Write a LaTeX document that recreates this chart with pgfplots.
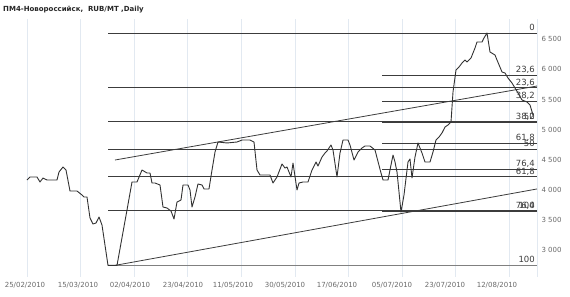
\documentclass[border=0pt]{standalone}
\usepackage{pgfplots}
\pgfplotsset{compat=1.18}
\usepackage{fontspec}
\setmainfont{DejaVu Sans}
\definecolor{gridc}{RGB}{226,233,241}
\definecolor{linec}{RGB}{50,50,50}
\definecolor{fibc}{RGB}{60,60,60}
\definecolor{tickc}{RGB}{105,105,105}
\tikzset{
  fib/.style={draw=fibc, line width=0.8bp},
  lab/.style={anchor=base east, inner sep=0pt, yshift=2.5bp, text=fibc, font=\fontsize{8.5bp}{9bp}\selectfont},
}
\begin{document}
\begin{tikzpicture}
\useasboundingbox (0,0) rectangle (570bp,297bp);
\node[anchor=base west,inner sep=0pt,text=black!85] at (3bp,285.5bp) {\fontsize{7bp}{8bp}\selectfont\bfseries ПМ4-Новороссийск,\ \ RUB/MT ,Daily};
\begin{axis}[
  at={(0bp,20bp)}, anchor=south west,
  scale only axis, width=537bp, height=258bp,
  xmin=0, xmax=537, ymin=2552, ymax=6837,
  axis line style={draw=none}, tick style={draw=none},
  major tick length=0pt,
  xtick={25,78,130,183,233,285,337,392,445,497},
  xticklabels={25/02/2010,15/03/2010,02/04/2010,23/04/2010,11/05/2010,30/05/2010,17/06/2010,05/07/2010,23/07/2010,12/08/2010},
  xticklabel style={font=\fontsize{7bp}{8bp}\selectfont, text=tickc, yshift=-2bp},
  extra x ticks={27,80.6,134.2,187.8,241.4,295,348.6,402.2,455.8,509.4,537},
  extra x tick labels={},
  extra x tick style={grid=major, major grid style={draw=gridc, line width=0.8bp}},
  ytick={3000,3500,4000,4500,5000,5500,6000,6500},
  yticklabels={3 000,3 500,4 000,4 500,5 000,5 500,6 000,6 500},
  yticklabel pos=right,
  yticklabel style={font=\fontsize{7bp}{8bp}\selectfont, text=tickc, anchor=west, xshift=1bp},
  clip=false,
]
% Fibonacci set 1 (low 2745 -> high 6605)
\addplot[fib] coordinates {(108,6605) (537,6605)};
\addplot[fib] coordinates {(108,5694) (537,5694)};
\addplot[fib] coordinates {(108,5130) (537,5130)};
\addplot[fib] coordinates {(108,4675) (537,4675)};
\addplot[fib] coordinates {(108,4219) (537,4219)};
\addplot[fib] coordinates {(108,3656) (537,3656)};
\addplot[fib, draw=gray, line width=1.5bp] coordinates {(108,2745) (537,2745)};
% Fibonacci set 2 (low 3640 -> high 6605)
\addplot[fib] coordinates {(382,5905) (537,5905)};
\addplot[fib] coordinates {(382,5472) (537,5472)};
\addplot[fib] coordinates {(382,5122) (537,5122)};
\addplot[fib] coordinates {(382,4773) (537,4773)};
\addplot[fib] coordinates {(382,4340) (537,4340)};
\addplot[fib] coordinates {(382,3640) (537,3640)};
% trend lines
\addplot[fib] coordinates {(115,4495) (537,5724)};
\addplot[fib] coordinates {(115,2745) (537,4014)};
% price
\addplot[draw=linec, line width=0.9bp, line join=round] coordinates {
(27,4163) (30,4213) (37,4213) (40,4130) (43,4196) (47,4163) (57,4163) (59,4296) (63,4379) (66,4329)
(70,3980) (77,3980) (82,3914) (84,3881) (87,3881) (90,3532) (93,3432) (96,3449) (99,3548) (102,3415)
(108,2745) (117,2745) (127,3665) (132,4130) (137,4130) (142,4329) (147,4279) (150,4279) (152,4113) (155,4113)
(160,4080) (163,3714) (167,3698) (171,3648) (174,3515) (177,3797) (181,3831) (183,4080) (188,4080) (190,3997)
(192,3714) (195,3881) (198,4097) (202,4080) (204,4014) (209,4014) (212,4329) (215,4628) (218,4794) (227,4778)
(237,4794) (242,4827) (250,4827) (254,4794) (257,4329) (260,4246) (270,4246) (273,4113) (277,4213) (282,4429)
(285,4362) (287,4379) (291,4213) (293,4445) (297,3997) (299,4113) (303,4130) (308,4130) (312,4329) (316,4462)
(318,4395) (322,4545) (325,4611) (327,4645) (331,4744) (333,4661) (337,4213) (340,4611) (343,4827) (348,4827)
(350,4744) (354,4495) (358,4628) (362,4694) (365,4728) (370,4728) (375,4661) (381,4279) (383,4163) (388,4163)
(393,4578) (395,4462) (397,4296) (401,3630) (404,3914) (408,4462) (410,4512) (412,4196) (415,4545) (418,4778)
(422,4611) (425,4462) (430,4462) (433,4628) (436,4827) (439,4877) (442,4944) (445,5043) (448,5077) (451,5127)
(453,5625) (456,5990) (459,6040) (462,6106) (465,6156) (467,6123) (471,6189) (475,6355) (477,6455) (482,6455)
(484,6522) (487,6605) (490,6289) (495,6239) (497,6156) (502,5957) (505,5940) (508,5857) (512,5774) (515,5691)
(518,5608) (522,5492) (527,5459) (530,5409) (533,5243)
};
% level labels
\node[lab] at (axis cs:535,6605) {0};
\node[lab] at (axis cs:535,5905) {23,6};
\node[lab] at (axis cs:535,5694) {23,6};
\node[lab] at (axis cs:535,5472) {38,2};
\node[lab] at (axis cs:535,5130) {38,2};
\node[lab] at (axis cs:535,5122) {50};
\node[lab] at (axis cs:535,4773) {61,8};
\node[lab] at (axis cs:535,4675) {50};
\node[lab] at (axis cs:535,4340) {76,4};
\node[lab] at (axis cs:535,4219) {61,8};
\node[lab] at (axis cs:535,3656) {76,4};
\node[lab] at (axis cs:535,3640) {100};
\node[lab] at (axis cs:535,2745) {100};
\end{axis}
\end{tikzpicture}
\end{document}
